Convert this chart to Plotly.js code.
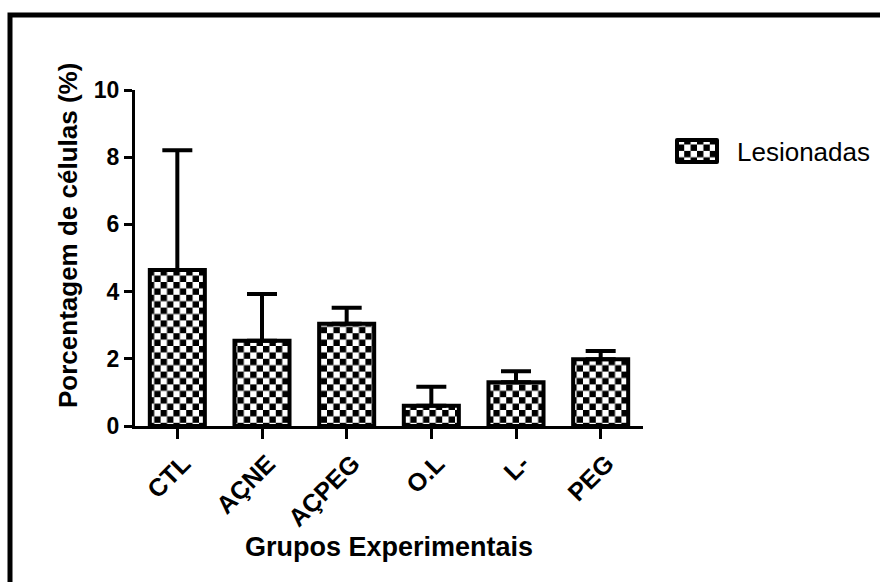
<!DOCTYPE html>
<html>
<head>
<meta charset="utf-8">
<script src="https://cdn.plot.ly/plotly-3.0.1.min.js"></script>
<style>
  html, body { margin: 0; padding: 0; background: #ffffff; }
  #chart { width: 880px; height: 582px; }
</style>
</head>
<body>
<div id="chart"></div>
<script>
// ---- data ----
const categories = ['CTL', 'AÇNE', 'AÇPEG', 'O.L', 'L-', 'PEG'];
const means = [4.64, 2.54, 3.04, 0.60, 1.30, 1.99];
const errUpper = [3.57, 1.39, 0.48, 0.57, 0.33, 0.24];
const errLower = [0, 0, 0, 0, 0, 0];
const seriesName = 'Lesionadas';
const yTickVals = [0, 2, 4, 6, 8, 10];
const xTitle = 'Grupos Experimentais';
const yTitle = 'Porcentagem de células (%)';

const FONT = 'Liberation Sans, Arial, Helvetica, sans-serif';

const trace = {
  type: 'bar',
  x: categories,
  y: means,
  name: seriesName,
  width: 0.65,
  marker: {
    color: 'white',
    line: { color: 'black', width: 4 },
    pattern: { shape: '+', fgcolor: 'black', bgcolor: 'white', size: 12, solidity: 0.5 }
  },
  error_y: {
    type: 'data',
    symmetric: false,
    array: errUpper,
    arrayminus: errLower,
    color: 'black',
    thickness: 4,
    width: 15
  },
  showlegend: true
};

// plot area in pixels: left 135, right 643, top 90, bottom 426
const W = 880, H = 582;
const L = 135, R = 643, T = 90, B = 426;
const PW = R - L, PH = B - T;
const px = v => (v - L) / PW;
const py = v => (B - v) / PH;

const layout = {
  width: W,
  height: H,
  margin: { l: L, r: W - R, t: T, b: H - B, pad: 0 },
  paper_bgcolor: 'white',
  plot_bgcolor: 'white',
  font: { family: FONT, color: 'black' },
  showlegend: true,
  xaxis: {
    type: 'category',
    range: [-0.5, 5.5],
    showline: true, linecolor: 'black', linewidth: 3,
    ticks: 'outside', ticklen: 10, tickwidth: 3, tickcolor: 'black',
    tickangle: -45,
    ticklabelshift: 6,
    ticklabelstandoff: 0,
    tickfont: { family: FONT, size: 25, weight: 'bold', color: 'black' },
    showgrid: false, zeroline: false,
    automargin: false,
    title: { text: xTitle, font: { family: FONT, size: 27, weight: 'bold', color: 'black' }, standoff: 0 }
  },
  yaxis: {
    range: [0, 10],
    tickvals: yTickVals,
    showline: true, linecolor: 'black', linewidth: 3,
    ticks: 'outside', ticklen: 8, tickwidth: 3, tickcolor: 'black',
    tickfont: { family: FONT, size: 23, weight: 'bold', color: 'black' },
    showgrid: false, zeroline: false,
    automargin: false
  },
  annotations: [{
    text: yTitle,
    xref: 'paper', yref: 'paper',
    x: px(68), y: py(236),
    xanchor: 'center', yanchor: 'middle',
    textangle: -90,
    showarrow: false,
    font: { family: FONT, size: 26, weight: 'bold', color: 'black' }
  }],
  legend: {
    xref: 'container', yref: 'container',
    x: 657 / W, xanchor: 'left',
    y: 1 - 151 / H, yanchor: 'middle',
    font: { family: FONT, size: 26, color: 'black' },
    bgcolor: 'rgba(0,0,0,0)',
    itemwidth: 70
  },
  shapes: [{
    type: 'rect', xref: 'paper', yref: 'paper',
    x0: px(10), x1: px(900), y0: py(600), y1: py(15),
    line: { color: 'black', width: 5 },
    fillcolor: 'rgba(0,0,0,0)',
    layer: 'below'
  }]
};

function checker(p) {
  const ns = 'http://www.w3.org/2000/svg';
  const s = 6.4;
  p.setAttribute('width', 2 * s);
  p.setAttribute('height', 2 * s);
  p.setAttribute('patternUnits', 'userSpaceOnUse');
  p.removeAttribute('patternTransform');
  p.removeAttribute('viewBox');
  while (p.firstChild) p.removeChild(p.firstChild);
  const mk = (x, y, w, h, f) => {
    const r = document.createElementNS(ns, 'rect');
    r.setAttribute('x', x); r.setAttribute('y', y);
    r.setAttribute('width', w); r.setAttribute('height', h);
    r.setAttribute('fill', f);
    p.appendChild(r);
  };
  mk(0, 0, 2 * s, 2 * s, 'white');
  mk(0, 0, s, s, 'black');
  mk(s, s, s, s, 'black');
}

Plotly.newPlot('chart', [trace], layout, { displayModeBar: false, staticPlot: true }).then(gd => {
  gd.querySelectorAll('pattern').forEach(checker);
  gd.querySelectorAll('.legendpoints path').forEach(p => {
    p.setAttribute('d', 'M20,11H-20V-11H20Z');
    p.style.strokeWidth = '4px';
    p.style.stroke = 'black';
    p.setAttribute('stroke-linejoin', 'round');
  });
});
</script>
</body>
</html>
